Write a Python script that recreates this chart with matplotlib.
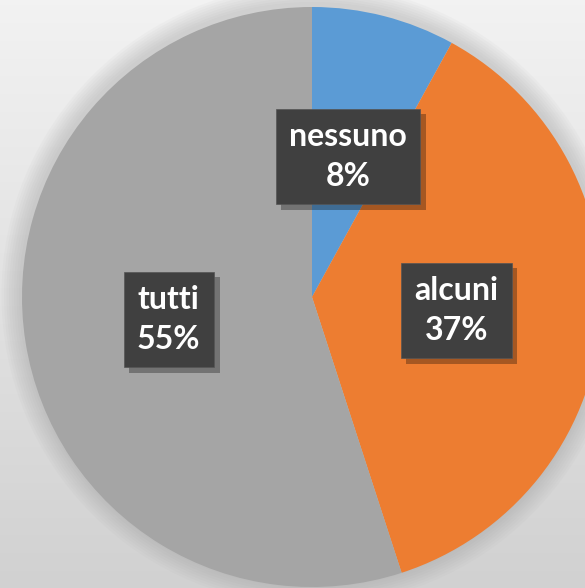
import numpy as np
import matplotlib.pyplot as plt
import matplotlib.patheffects as pe

labels = ['nessuno', 'alcuni', 'tutti']
values = [8, 37, 55]
colors = ['#5B9BD5', '#ED7D31', '#A5A5A5']

fig = plt.figure(figsize=(5.85, 5.88), dpi=100)
ax = fig.add_axes([0, 0, 1, 1])

# background gradient, light at top, darker at bottom
grad = np.linspace(0.95, 0.82, 256).reshape(-1, 1)
ax.imshow(np.dstack([grad] * 3), extent=[0, 585, 0, 588], aspect='auto', zorder=0)

cx, cy, r = 312, 291, 290

# soft glow around the pie
for k in range(8):
    ax.add_patch(plt.Circle((cx, cy + 2), r + 3 + k * 2.5, color='#999999',
                            alpha=0.05, lw=0, zorder=1))

wedges, texts = ax.pie(values, colors=colors, startangle=90, counterclock=False,
                       center=(cx, cy), radius=r, frame=True,
                       labels=[f'{l}\n{v}%' for l, v in zip(labels, values)],
                       labeldistance=0.5,
                       wedgeprops=dict(linewidth=0, zorder=2))
ax.set_xlim(0, 585)
ax.set_ylim(0, 588)
ax.set_aspect('equal')
ax.axis('off')

for t in texts:
    t.set_ha('center')
    t.set_va('center')
    t.set_family(['Lato', 'DejaVu Sans'])
    t.set_fontweight('bold')
    t.set_fontsize(23)
    t.set_color('white')
    t.set_linespacing(1.45)
    t.set_zorder(5)
    t.set_bbox(dict(boxstyle='square,pad=0.42', fc='#404040', ec='#555555',
                    lw=0.5))
    t.get_bbox_patch().set_path_effects([
        pe.SimplePatchShadow(offset=(4, -4), shadow_rgbFace='black', alpha=0.3),
        pe.Normal()])

fig.savefig('out.png', dpi=100)
